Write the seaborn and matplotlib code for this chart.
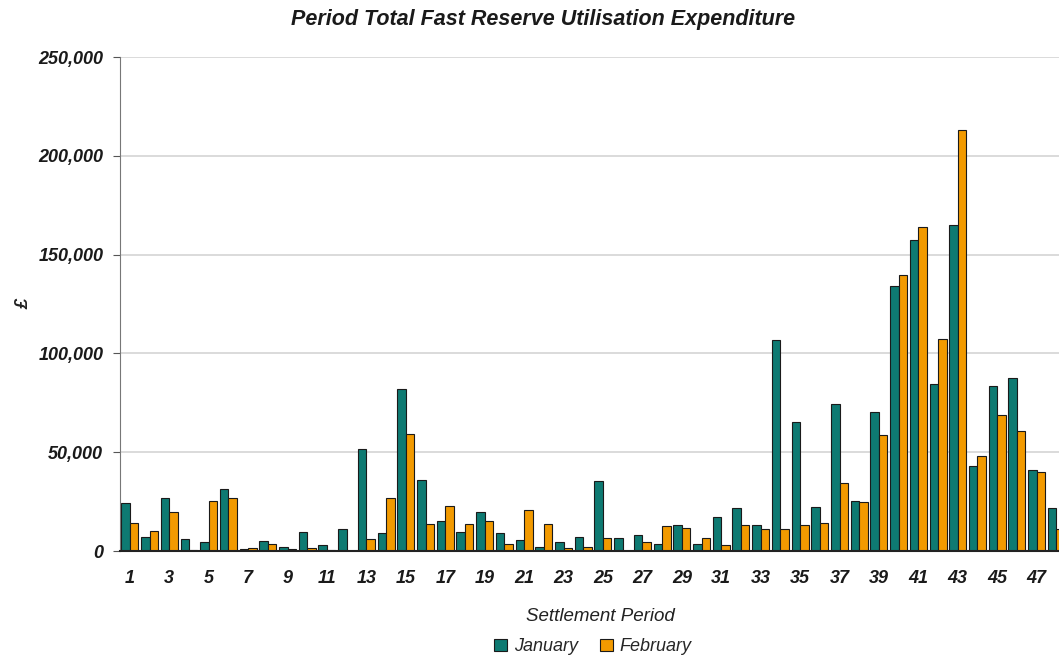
import numpy as np
import pandas as pd
import matplotlib
matplotlib.use('agg')
import matplotlib.pyplot as plt
from matplotlib.ticker import FuncFormatter, FixedLocator
import seaborn as sns

periods = list(range(1, 49))
january = [24100, 7200, 26900, 5900, 4400, 31500, 1000, 5000, 1900, 9800,
           3000, 11100, 51400, 9100, 81800, 36200, 15000, 9600, 20000, 9100,
           5700, 2000, 4700, 7100, 35200, 6600, 7900, 3700, 13200, 3400,
           17300, 21700, 13200, 106700, 65500, 22500, 74500, 25400, 70600, 134300,
           157500, 84700, 165100, 42900, 83500, 87600, 41100, 22000]
february = [14100, 10100, 19900, 500, 25400, 26800, 1700, 3700, 1000, 1700,
            500, 0, 6100, 26900, 59300, 13500, 22700, 13800, 15000, 3700,
            20900, 13800, 1700, 2000, 6600, 0, 4500, 12600, 11500, 6800,
            2900, 13200, 11000, 11000, 13000, 14100, 34400, 24600, 58900, 139700,
            163800, 107200, 213000, 48000, 68600, 60700, 40100, 11000]
months = ['January', 'February']
colours = ['#0E7A72', '#F29A00']

df = pd.DataFrame({
    'period': periods * 2,
    'month': ['January'] * 48 + ['February'] * 48,
    'value': january + february,
})

sns.set_style('white')
plt.rcParams['font.family'] = ['Liberation Sans', 'DejaVu Sans']

fig = plt.figure(figsize=(10.59, 6.56), dpi=100)
ax = fig.add_axes([0.1133, 0.16, 0.8935, 0.753])

sns.barplot(data=df, x='period', y='value', hue='month', hue_order=months,
            palette=colours, saturation=1, width=0.86, gap=0, edgecolor='#1a1a1a',
            linewidth=0.8, ax=ax, legend=True)

ax.set_ylim(0, 250000)
ax.set_xlim(-0.5, 47.5)
ax.yaxis.set_major_formatter(FuncFormatter(lambda v, p: f'{int(v):,}'))
ax.set_yticks(np.arange(0, 250001, 50000))
ax.yaxis.grid(True, color='#d4d4d4', linewidth=1.2)
ax.set_axisbelow(True)

# odd labels only, tick marks between categories
ax.set_xticks(range(0, 48, 2))
ax.set_xticklabels([str(p) for p in periods[::2]])
ax.xaxis.set_minor_locator(FixedLocator(np.arange(-0.5, 48, 1)))
ax.tick_params(axis='x', which='major', length=0, pad=14)
ax.tick_params(axis='x', which='minor', length=5, color='#222222', width=1)
ax.tick_params(axis='y', which='major', length=5, color='#555555', left=True, pad=7)

for lab in ax.get_xticklabels() + ax.get_yticklabels():
    lab.set_fontstyle('italic')
    lab.set_fontweight('bold')
    lab.set_fontsize(13)
    lab.set_color('#1a1a1a')

for s in ['top', 'right']:
    ax.spines[s].set_visible(False)
ax.spines['left'].set_color('#777777')
ax.spines['bottom'].set_color('#222222')
ax.spines['bottom'].set_linewidth(1.5)

ax.set_xlabel('Settlement Period', fontsize=13.5, fontstyle='italic', color='#222222')
ax.xaxis.set_label_coords(0.508, -0.115)
ax.set_ylabel('£', fontsize=13, fontstyle='italic', fontweight='bold', color='#222222')
ax.yaxis.set_label_coords(-0.092, 0.5)

fig.text(0.513, 0.97, 'Period Total Fast Reserve Utilisation Expenditure',
         ha='center', va='center', fontsize=15.5, fontstyle='italic', fontweight='bold', color='#1a1a1a')

ax.legend(loc='center', bbox_to_anchor=(0.5, -0.194), ncol=2, frameon=False,
          handlelength=0.7, handleheight=0.7, handletextpad=0.4, columnspacing=1.2,
          prop={'style': 'italic', 'size': 13})

fig.savefig('out.png', dpi=100)
